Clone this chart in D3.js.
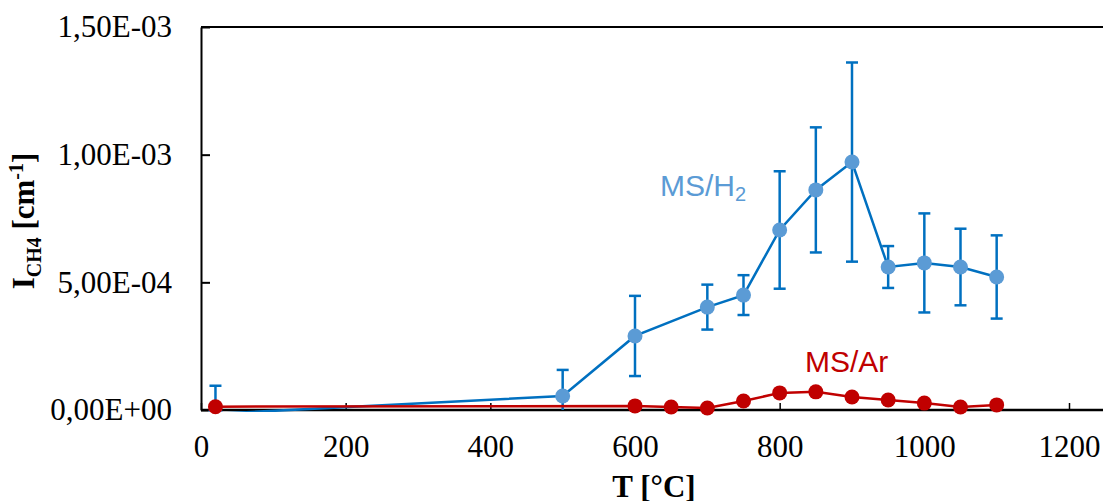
<!DOCTYPE html>
<html><head><meta charset="utf-8">
<script src="https://cdn.jsdelivr.net/npm/d3@7"></script>
<style>body{margin:0;background:#fff}svg{display:block}</style>
</head><body>
<script>
const temps = [20, 500, 600, 700, 750, 800, 850, 900, 950, 1000, 1050, 1100];
const h2Values = [-1.5e-5, 5.5e-5, 2.9e-4, 4.03e-4, 4.5e-4, 7.05e-4, 8.62e-4, 9.71e-4, 5.6e-4, 5.76e-4, 5.6e-4, 5.21e-4];
const h2Errors = [1.1e-4, 1.02e-4, 1.57e-4, 0.88e-4, 0.78e-4, 2.3e-4, 2.45e-4, 3.9e-4, 0.82e-4, 1.94e-4, 1.5e-4, 1.63e-4];
const arTemps = [20, 600, 650, 700, 750, 800, 850, 900, 950, 1000, 1050, 1100];
const arValues = [1.3e-5, 1.6e-5, 1.2e-5, 0.8e-5, 3.5e-5, 6.7e-5, 7.1e-5, 5.1e-5, 3.9e-5, 2.7e-5, 1.2e-5, 2.0e-5];
const xTicks = [0, 200, 400, 600, 800, 1000, 1200];
const yTicks = [0, 5e-4, 1e-3, 1.5e-3];
const yTickLabels = ["0,00E+00", "5,00E-04", "1,00E-03", "1,50E-03"];

const W = 1103, H = 501;
const svg = d3.select("body").append("svg").attr("width", W).attr("height", H);
const x = d3.scaleLinear().domain([0, 1200]).range([201, 1069]);
const y = d3.scaleLinear().domain([0, 1.5e-3]).range([410, 27]);

const serif = "'Liberation Serif','Times New Roman',serif";
const sans = "'Liberation Sans',Arial,sans-serif";
const FS = 31;

svg.append("defs").append("clipPath").attr("id", "plot")
  .append("rect").attr("x", 201).attr("y", 0).attr("width", W).attr("height", 412);

// frame: top line and axes
svg.append("line").attr("x1", 201).attr("x2", W).attr("y1", y(1.5e-3)).attr("y2", y(1.5e-3))
  .attr("stroke", "#000").attr("stroke-width", 2);

const yAxis = d3.axisLeft(y).tickValues(yTicks).tickSizeInner(-9).tickSizeOuter(0)
  .tickFormat((d, i) => yTickLabels[i]).tickPadding(29);
const gy = svg.append("g").attr("transform", "translate(201,0)").call(yAxis);
gy.selectAll("text").attr("font-family", serif).attr("font-size", FS).attr("fill", "#000");
gy.select(".domain").attr("stroke-width", 2);
gy.selectAll(".tick line").attr("stroke-width", 2);

const xAxis = d3.axisBottom(x).tickValues(xTicks).tickSizeInner(-7).tickSizeOuter(0)
  .tickPadding(25).tickFormat(d3.format("d"));
const gx = svg.append("g").attr("transform", "translate(0,410)").call(xAxis);
gx.selectAll("text").attr("font-family", serif).attr("font-size", FS).attr("fill", "#000");
gx.select(".domain").attr("d", `M201,0H${W}`).attr("stroke-width", 2.5);
gx.selectAll(".tick line").attr("stroke-width", 1.5);

// axis titles
svg.append("text").attr("x", 654).attr("y", 497).attr("text-anchor", "middle")
  .attr("font-family", serif).attr("font-size", FS).attr("font-weight", "bold").text("T [°C]");
const yt = svg.append("text").attr("transform", "translate(34,221) rotate(-90)").attr("text-anchor", "middle")
  .attr("font-family", serif).attr("font-size", FS).attr("font-weight", "bold");
yt.append("tspan").text("I");
yt.append("tspan").attr("font-size", 20).attr("dy", 7).text("CH4");
yt.append("tspan").attr("dy", -7).text(" [cm");
yt.append("tspan").attr("font-size", 20).attr("dy", -11).text("-1");
yt.append("tspan").attr("dy", 11).text("]");

const blue = "#0070C0", blueM = "#5B9BD5", red = "#C00000";
const h2 = temps.map((t, i) => ({t, v: h2Values[i], e: h2Errors[i]}));
const ar = arTemps.map((t, i) => ({t, v: arValues[i]}));
const line = d3.line().x(d => x(d.t)).y(d => y(d.v));

const gBlue = svg.append("g").attr("clip-path", "url(#plot)");
// H2 error bars (clipped to plot bottom)
const eb = gBlue.append("g").attr("stroke", blue).attr("stroke-width", 2.5);
h2.forEach(d => {
  const top = y(d.v + d.e), bot = Math.min(y(d.v - d.e), y(0));
  eb.append("line").attr("x1", x(d.t)).attr("x2", x(d.t)).attr("y1", top).attr("y2", bot);
  eb.append("line").attr("x1", x(d.t) - 6).attr("x2", x(d.t) + 6).attr("y1", top).attr("y2", top);
  if (y(d.v - d.e) < y(0)) eb.append("line").attr("x1", x(d.t) - 6).attr("x2", x(d.t) + 6).attr("y1", bot).attr("y2", bot);
});
gBlue.append("path").datum(h2).attr("d", line).attr("fill", "none").attr("stroke", blue).attr("stroke-width", 2.5);
gBlue.append("g").selectAll("circle").data(h2).join("circle")
  .attr("cx", d => x(d.t)).attr("cy", d => y(d.v)).attr("r", 7.5).attr("fill", blueM);

svg.append("path").datum(ar).attr("d", line).attr("fill", "none").attr("stroke", red).attr("stroke-width", 2.5);
svg.append("g").selectAll("circle").data(ar).join("circle")
  .attr("cx", d => x(d.t)).attr("cy", d => y(d.v)).attr("r", 7.5).attr("fill", red);

// series labels
const l1 = svg.append("text").attr("x", 660).attr("y", 196).attr("font-family", sans).attr("font-size", 30).attr("fill", blueM);
l1.append("tspan").text("MS/H");
l1.append("tspan").attr("font-size", 20).attr("dy", 5).text("2");
svg.append("text").attr("x", 805).attr("y", 372).attr("font-family", sans).attr("font-size", 30).attr("fill", red).text("MS/Ar");
</script>
</body></html>
